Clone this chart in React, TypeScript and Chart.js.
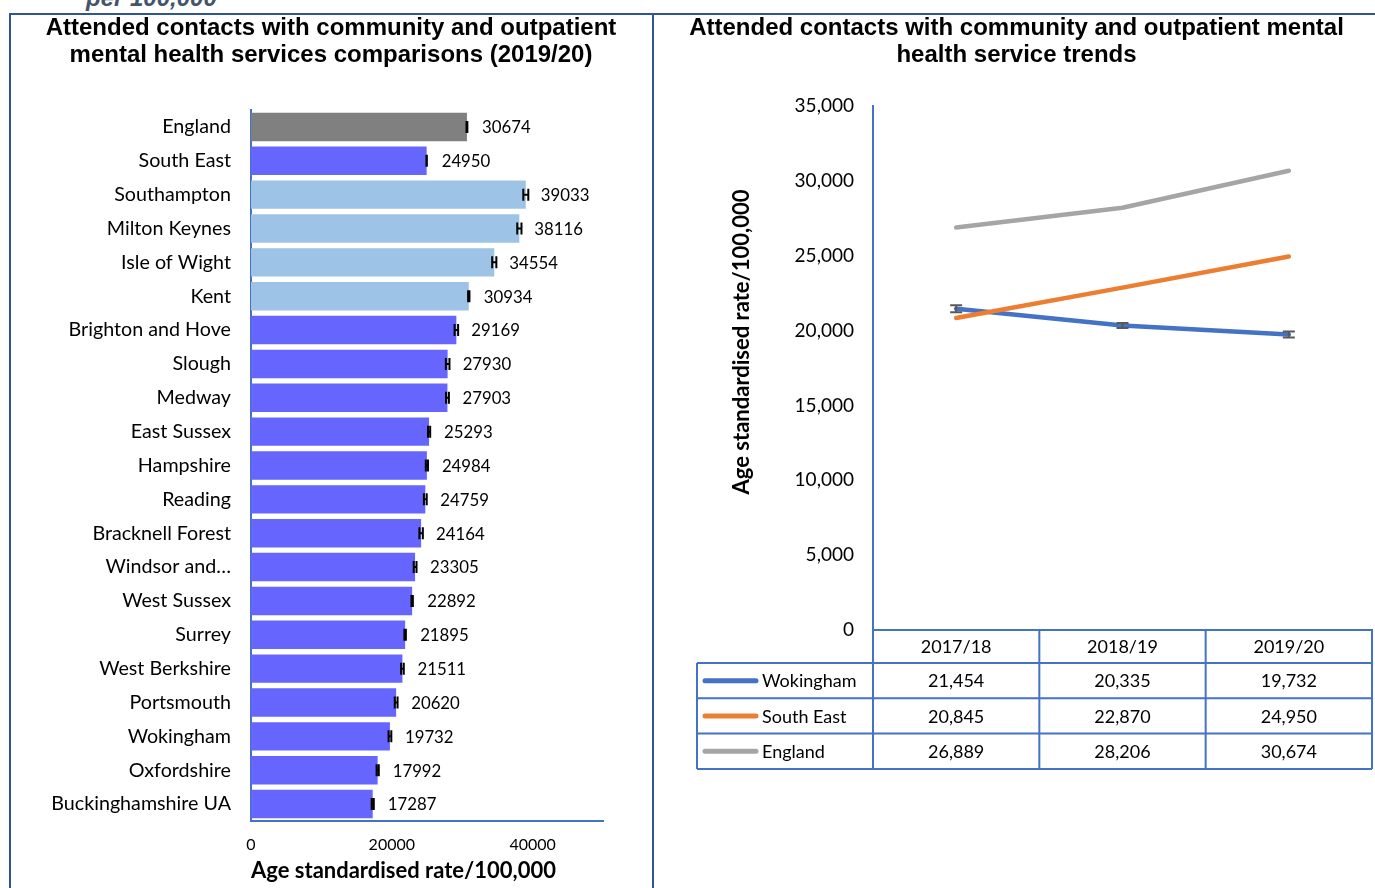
import React, { useEffect, useRef } from "react";
import { Chart, registerables } from "chart.js";
Chart.register(...registerables);

// ---------- Left chart data ----------
const barCategories = [
  "England", "South East", "Southampton", "Milton Keynes", "Isle of Wight", "Kent",
  "Brighton and Hove", "Slough", "Medway", "East Sussex", "Hampshire", "Reading",
  "Bracknell Forest", "Windsor and…", "West Sussex", "Surrey", "West Berkshire",
  "Portsmouth", "Wokingham", "Oxfordshire", "Buckinghamshire UA",
];
const barValues = [
  30674, 24950, 39033, 38116, 34554, 30934, 29169, 27930, 27903, 25293, 24984, 24759,
  24164, 23305, 22892, 21895, 21511, 20620, 19732, 17992, 17287,
];
const barLower = [
  30614, 24920, 38680, 37820, 34260, 30840, 28920, 27680, 27700, 25140, 24830, 24560,
  23920, 23110, 22790, 21790, 21320, 20420, 19540, 17840, 17140,
];
const barUpper = [
  30734, 24980, 39390, 38420, 34850, 31030, 29420, 28190, 28110, 25450, 25140, 24960,
  24410, 23510, 22990, 22000, 21700, 20820, 19930, 18150, 17440,
];
// comparison group: national, region, significantly higher, similar/lower
const barGroup = [
  "national", "region", "higher", "higher", "higher", "higher", "other", "other", "other",
  "other", "other", "other", "other", "other", "other", "other", "other", "other", "other",
  "other", "other",
];
const barTicks = [0, 20000, 40000];

// ---------- Right chart data ----------
const years = ["2017/18", "2018/19", "2019/20"];
const wokingham = [21454, 20335, 19732];
const wokinghamLower = [21224, 20165, 19532];
const wokinghamUpper = [21684, 20505, 19932];
const southEast = [20845, 22870, 24950];
const england = [26889, 28206, 30674];
const trendTicks = [0, 5000, 10000, 15000, 20000, 25000, 30000, 35000];

const groupColors: Record<string, string> = {
  national: "#808080",
  region: "#6666FF",
  higher: "#9DC3E6",
  other: "#6666FF",
};
const AXIS_BLUE = "#4472C4";
const FRAME_BLUE = "#2F5597";
const BODY_FONT = "Lato";
const TITLE_FONT = "'Liberation Sans', Arial, sans-serif";

const fmt = (v: number) => v.toLocaleString("en-US");

function BarChart() {
  const ref = useRef<HTMLCanvasElement>(null);
  useEffect(() => {
    const extras = {
      id: "barExtras",
      afterDatasetsDraw(chart: any) {
        const { ctx } = chart;
        const xs = chart.scales.x;
        const ys = chart.scales.y;
        ctx.save();
        barValues.forEach((v, i) => {
          const yc = ys.getPixelForValue(i);
          const xl = xs.getPixelForValue(barLower[i]);
          const xu = xs.getPixelForValue(barUpper[i]);
          ctx.strokeStyle = "#000";
          ctx.lineWidth = 2;
          ctx.beginPath();
          ctx.moveTo(xl, yc);
          ctx.lineTo(xu, yc);
          ctx.moveTo(xl, yc - 6);
          ctx.lineTo(xl, yc + 6);
          ctx.moveTo(xu, yc - 6);
          ctx.lineTo(xu, yc + 6);
          ctx.stroke();
          ctx.fillStyle = "#000";
          ctx.font = `16.8px ${BODY_FONT}`;
          ctx.textBaseline = "middle";
          ctx.textAlign = "left";
          ctx.fillText(String(v), xs.getPixelForValue(v) + 15, yc + 1);
        });
        ctx.restore();
      },
    };
    const chart = new Chart(ref.current!, {
      type: "bar",
      data: {
        labels: barCategories,
        datasets: [
          {
            data: barValues,
            backgroundColor: barGroup.map((g) => groupColors[g]),
            categoryPercentage: 0.84,
            barPercentage: 1,
            xAxisID: "x",
            yAxisID: "y",
          },
        ],
      },
      options: {
        indexAxis: "y",
        responsive: false,
        animation: false,
        devicePixelRatio: 1,
        layout: { padding: 0 },
        plugins: {
          legend: { display: false },
          tooltip: { enabled: false },
          title: {
            display: true,
            text: [
              "Attended contacts with community and outpatient",
              "mental health services comparisons (2019/20)",
            ],
            color: "#000",
            font: { family: TITLE_FONT, size: 24, weight: "bold", lineHeight: 1.125 },
            padding: { top: 1, bottom: 41 },
          },
        },
        scales: {
          x: {
            type: "linear",
            min: 0,
            max: 50000,
            afterBuildTicks: (s: any) => {
              s.ticks = barTicks.map((v) => ({ value: v }));
            },
            ticks: {
              color: "#000",
              font: { family: BODY_FONT, size: 16 },
              padding: 14,
              maxRotation: 0,
              callback: (v: any) => String(v),
            },
            grid: { display: false, drawTicks: false },
            border: { display: true, color: AXIS_BLUE, width: 2 },
            title: {
              display: true,
              text: "Age standardised rate/100,000",
              align: "start",
              color: "#000",
              font: { family: BODY_FONT, size: 22, weight: "bold", lineHeight: 1.2 },
              padding: { top: 0, bottom: 4 },
            },
            afterFit: (s: any) => {
              s.height = 67;
            },
          },
          y: {
            type: "category",
            position: "left",
            ticks: {
              color: "#000",
              font: { family: BODY_FONT, size: 19.7 },
              padding: 20,
              autoSkip: false,
            },
            grid: { display: false, drawTicks: false },
            border: { display: true, color: AXIS_BLUE, width: 2 },
            afterFit: (s: any) => {
              s.width = 241;
            },
          },
          rightGap: {
            type: "linear",
            axis: "y",
            position: "right",
            display: true,
            ticks: { display: false },
            grid: { display: false, drawTicks: false },
            border: { display: false },
            afterFit: (s: any) => {
              s.width = 49;
            },
          },
        },
      } as any,
      plugins: [extras],
    });
    return () => chart.destroy();
  }, []);
  return (
    <canvas
      ref={ref}
      width={642}
      height={874}
      style={{ position: "absolute", left: 10, top: 14, width: 642, height: 874 }}
    />
  );
}

function TrendChart() {
  const ref = useRef<HTMLCanvasElement>(null);
  useEffect(() => {
    const series = [
      { name: "Wokingham", values: wokingham, color: "#4472C4" },
      { name: "South East", values: southEast, color: "#ED7D31" },
      { name: "England", values: england, color: "#A5A5A5" },
    ];
    const extras = {
      id: "trendExtras",
      afterDatasetsDraw(chart: any) {
        const { ctx } = chart;
        const xs = chart.scales.x;
        const ys = chart.scales.y;
        ctx.save();
        ctx.strokeStyle = "#595959";
        ctx.lineWidth = 2;
        wokingham.forEach((_, i) => {
          const x = xs.getPixelForValue(i);
          const yl = ys.getPixelForValue(wokinghamLower[i]);
          const yu = ys.getPixelForValue(wokinghamUpper[i]);
          ctx.beginPath();
          ctx.moveTo(x, yl);
          ctx.lineTo(x, yu);
          ctx.moveTo(x - 6, yl);
          ctx.lineTo(x + 6, yl);
          ctx.moveTo(x - 6, yu);
          ctx.lineTo(x + 6, yu);
          ctx.stroke();
        });
        ctx.restore();
      },
      afterDraw(chart: any) {
        const { ctx, chartArea } = chart;
        const xs = chart.scales.x;
        const ys = chart.scales.y;
        const band = (chartArea.right - chartArea.left) / years.length;
        const top = chartArea.bottom;
        const headerH = 33;
        const rowH = 35.3;
        const tableLeft = chartArea.left - 176;
        const tableRight = chartArea.right;
        const bottom = top + headerH + rowH * series.length;
        ctx.save();
        ctx.strokeStyle = AXIS_BLUE;
        ctx.lineWidth = 2;
        ctx.beginPath();
        for (let r = 0; r <= series.length; r++) {
          const y = top + headerH + r * rowH;
          ctx.moveTo(tableLeft, y);
          ctx.lineTo(tableRight, y);
        }
        ctx.moveTo(tableLeft, top + headerH);
        ctx.lineTo(tableLeft, bottom);
        for (let c = 0; c <= years.length; c++) {
          const x = c < years.length ? xs.getPixelForValue(c) - band / 2 : xs.getPixelForValue(c - 1) + band / 2;
          ctx.moveTo(x, top);
          ctx.lineTo(x, bottom);
        }
        ctx.stroke();

        series.forEach((s, r) => {
          const yc = top + headerH + r * rowH + rowH / 2;
          ctx.strokeStyle = s.color;
          ctx.lineWidth = 5;
          ctx.lineCap = "round";
          ctx.beginPath();
          ctx.moveTo(tableLeft + 8, yc);
          ctx.lineTo(tableLeft + 59, yc);
          ctx.stroke();
          ctx.fillStyle = "#000";
          ctx.font = `18px ${BODY_FONT}`;
          ctx.textBaseline = "middle";
          ctx.textAlign = "left";
          ctx.fillText(s.name, tableLeft + 65, yc + 1);
          ctx.textAlign = "center";
          s.values.forEach((v, i) => {
            ctx.fillText(fmt(v), xs.getPixelForValue(i), yc + 1);
          });
        });

        // rotated y-axis title
        ctx.translate(chartArea.left - 131, (ys.top + ys.bottom) / 2 - 26);
        ctx.rotate(-Math.PI / 2);
        ctx.font = `bold 22px ${BODY_FONT}`;
        ctx.textAlign = "center";
        ctx.textBaseline = "middle";
        ctx.fillStyle = "#000";
        ctx.fillText("Age standardised rate/100,000", 0, 0);
        ctx.restore();
      },
    };
    const chart = new Chart(ref.current!, {
      type: "line",
      data: {
        labels: years,
        datasets: [
          { label: "Wokingham", data: wokingham, borderColor: "#4472C4", order: 1 },
          { label: "South East", data: southEast, borderColor: "#ED7D31", order: 0 },
          { label: "England", data: england, borderColor: "#A5A5A5", order: 2 },
        ].map((d) => ({
          ...d,
          borderWidth: 4.5,
          borderCapStyle: "round",
          borderJoinStyle: "round",
          pointRadius: 0,
          tension: 0,
          fill: false,
        })),
      },
      options: {
        responsive: false,
        animation: false,
        devicePixelRatio: 1,
        layout: { padding: { left: 7, right: 3, top: 0, bottom: 0 } },
        plugins: {
          legend: { display: false },
          tooltip: { enabled: false },
          title: {
            display: true,
            text: [
              "Attended contacts with community and outpatient mental",
              "health service trends",
            ],
            color: "#000",
            font: { family: TITLE_FONT, size: 24, weight: "bold", lineHeight: 1.125 },
            padding: { top: 1, bottom: 37 },
          },
        },
        scales: {
          x: {
            type: "category",
            offset: true,
            ticks: {
              color: "#000",
              font: { family: BODY_FONT, size: 18 },
              padding: 6,
              maxRotation: 0,
            },
            grid: { display: false, drawTicks: false },
            border: { display: true, color: AXIS_BLUE, width: 2 },
            afterFit: (s: any) => {
              s.height = 258;
            },
          },
          y: {
            type: "linear",
            min: 0,
            max: 35000,
            afterBuildTicks: (s: any) => {
              s.ticks = trendTicks.map((v) => ({ value: v }));
            },
            ticks: {
              color: "#000",
              font: { family: BODY_FONT, size: 19 },
              padding: 19,
              callback: (v: any) => fmt(Number(v)),
            },
            grid: { display: false, drawTicks: false },
            border: { display: true, color: AXIS_BLUE, width: 2 },
            afterFit: (s: any) => {
              s.width = 212;
            },
          },
        },
      } as any,
      plugins: [extras],
    });
    return () => chart.destroy();
  }, []);
  return (
    <canvas
      ref={ref}
      width={721}
      height={874}
      style={{ position: "absolute", left: 654, top: 14, width: 721, height: 874 }}
    />
  );
}

export default function App() {
  return (
    <div
      style={{
        position: "fixed",
        left: 0,
        top: 0,
        width: 1375,
        height: 888,
        overflow: "hidden",
        background: "#fff",
      }}
    >
      <div
        style={{
          position: "absolute",
          left: 86,
          top: -14,
          fontFamily: TITLE_FONT,
          fontStyle: "italic",
          fontWeight: "bold",
          fontSize: 24,
          lineHeight: "24px",
          color: "#44546A",
          whiteSpace: "nowrap",
        }}
      >
        per 100,000
      </div>
      <div style={{ position: "absolute", left: 9, top: 13, width: 1366, height: 2, background: FRAME_BLUE }} />
      <div style={{ position: "absolute", left: 9, top: 13, width: 1.5, height: 875, background: FRAME_BLUE }} />
      <div style={{ position: "absolute", left: 652, top: 13, width: 2, height: 875, background: FRAME_BLUE }} />
      <BarChart />
      <TrendChart />
    </div>
  );
}
